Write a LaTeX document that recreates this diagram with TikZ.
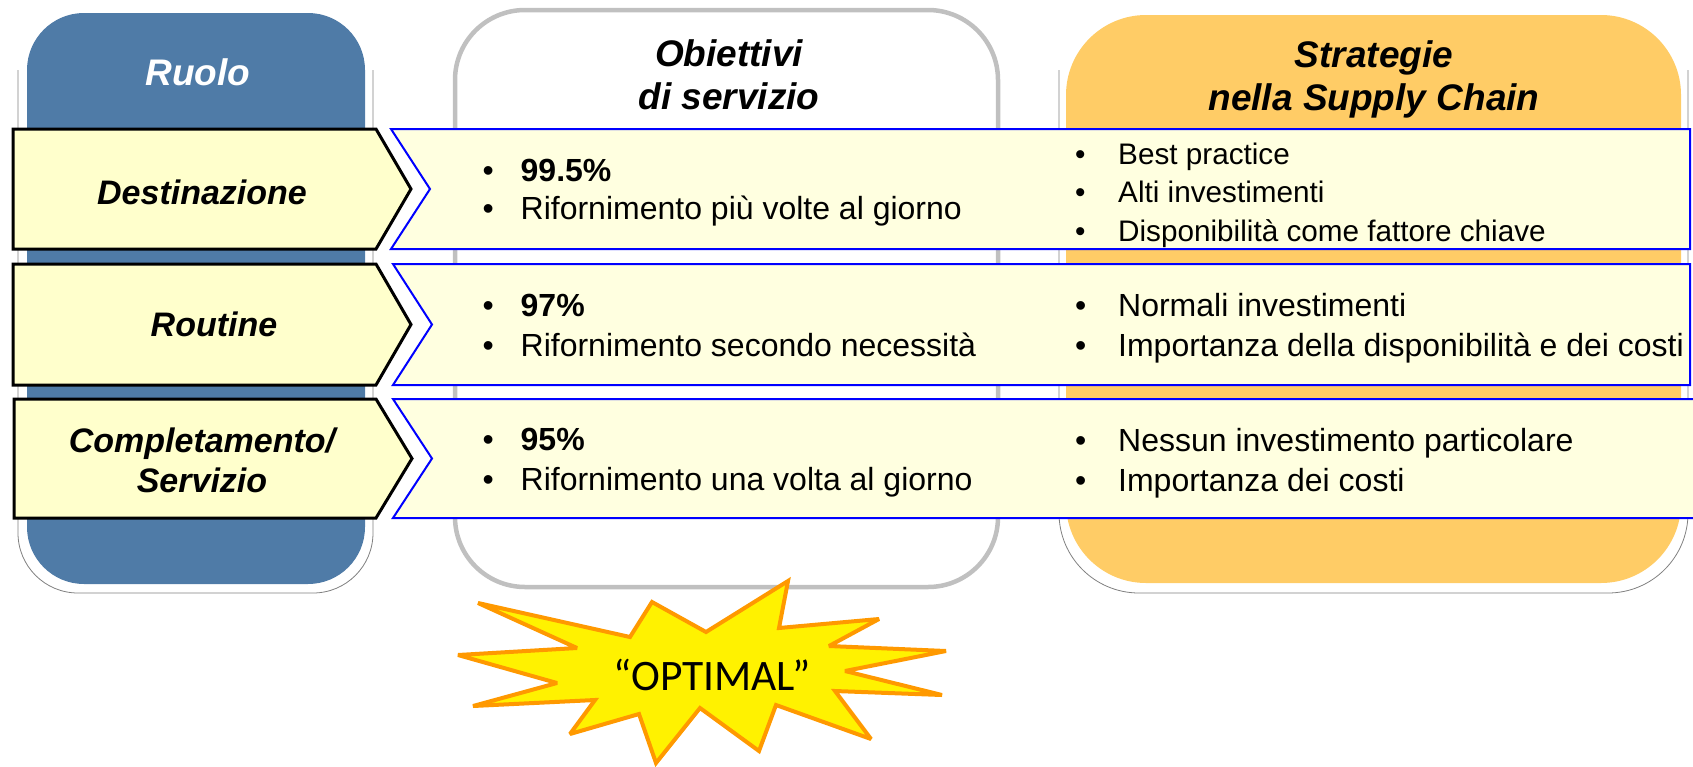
\documentclass[tikz,border=0pt]{standalone}
\usepackage{fontspec}
\setmainfont{Liberation Sans}
\newfontfamily\optfont{Carlito}
\definecolor{ruoloblue}{RGB}{79,123,167}
\definecolor{boxorange}{RGB}{255,204,102}
\definecolor{boxgray}{RGB}{192,192,192}
\definecolor{arrowfill}{RGB}{255,255,204}
\definecolor{rowfill}{RGB}{255,255,224}
\definecolor{starorange}{RGB}{255,153,0}
\newcommand{\bl}[1]{\makebox[38pt][l]{\textbullet}#1}
\newcommand{\br}[1]{\makebox[43pt][l]{\textbullet}#1}

\begin{document}
\begin{tikzpicture}[x=1pt,y=-1pt,
    title/.style={font=\fontsize{37}{43}\selectfont\bfseries\itshape, align=center, inner sep=0},
    role/.style={font=\fontsize{34}{40}\selectfont\bfseries\itshape, align=center, inner sep=0},
    items/.style={font=\fontsize{32}{40}\selectfont, align=left, anchor=west, inner sep=0},
    tightitems/.style={items, font=\fontsize{32}{38}\selectfont},
    smallitems/.style={items, font=\fontsize{29.7}{38.5}\selectfont},
    shadowline/.style={draw=black!50, line width=0.8pt},
    rolearrow/.style={draw=black, line width=3pt, fill=arrowfill, line join=miter},
    rowbar/.style={draw=blue, line width=2pt, fill=rowfill}]
        \useasboundingbox (0,0) rectangle (1693,766);
        % column boxes
        \draw[shadowline, rounded corners=60] (18,70) -- (18,593) -- (373,593) -- (373,70);
        \draw[shadowline, rounded corners=80] (1059,70) -- (1059,593) -- (1688,593) -- (1688,70);
        \fill[ruoloblue, rounded corners=57] (27,13) rectangle (365,584);
        \draw[boxgray, line width=4.5pt, rounded corners=70] (455,10) rectangle (998,587);
        \fill[boxorange, rounded corners=80] (1066,15) rectangle (1681,583);
        \node[title, text=white] (ruolo) at (198,72) {Ruolo};
        \node[title] (obiettivi) at (729,75) {Obiettivi\\di servizio};
        \node[title] (strategie) at (1374,79) {Strategie\\nella Supply Chain};
        % rows
        \draw[rolearrow] (13,129) -- (376,129) -- (411,189) -- (376,249) -- (13,249) -- cycle;
        \draw[rowbar] (391,129) -- (1690,129) -- (1690,249) -- (391,249) -- (430,189) -- cycle;
        \draw[rolearrow] (13,264) -- (376,264) -- (411,324.5) -- (376,385) -- (13,385) -- cycle;
        \draw[rowbar] (393,264) -- (1690,264) -- (1690,385) -- (393,385) -- (432,324.5) -- cycle;
        \draw[rolearrow] (14,399) -- (376,399) -- (412,458.5) -- (376,518) -- (14,518) -- cycle;
        \draw[rowbar] (393,399) -- (1700,399) -- (1700,518) -- (393,518) -- (432,458.5) -- cycle;
        \node[role] (destinazione) at (202,192) {Destinazione};
        \node[role] (routine) at (214,324) {Routine};
        \node[role] (completamento) at (202,460) {Completamento/\\Servizio};
        \node[tightitems] (obj1) at (482.5,192.5) {\bl{\textbf{99.5\%}}\\\bl{Rifornimento più volte al giorno}};
        \node[items] (obj2) at (482.5,325.5) {\bl{\textbf{97\%}}\\\bl{Rifornimento secondo necessità}};
        \node[items] (obj3) at (482.5,463) {\bl{\textbf{95\%}}\\\bl{Rifornimento una volta al giorno}};
        \node[smallitems] (str1) at (1075,195) {\br{Best practice}\\\br{Alti investimenti}\\\br{Disponibilità come fattore chiave}};
        \node[items] (str2) at (1075,328.5) {\br{Normali investimenti}\\\br{Importanza della disponibilità e dei costi}};
        \node[items] (str3) at (1075,463) {\br{Nessun investimento particolare}\\\br{Importanza dei costi}};
        % star
        \filldraw[draw=starorange, fill=yellow, line width=4pt, line join=miter, miter limit=3]
            (478,603) -- (630,637) -- (652,602) -- (706,632) -- (788,581) -- (779,628)
            -- (879,619) -- (829,646) -- (946,651) -- (845,671) -- (942,695) -- (835,691)
            -- (871,739) -- (776,705) -- (759,751) -- (700,708) -- (656,763) -- (639,714)
            -- (570,734) -- (595,700) -- (473,706) -- (557,683) -- (458,655) -- (577,648) -- cycle;
        \node[font=\optfont\fontsize{43.5}{47}\selectfont, inner sep=0] (optimal) at (712,675) {“OPTIMAL”};
    \end{tikzpicture}
\end{document}
